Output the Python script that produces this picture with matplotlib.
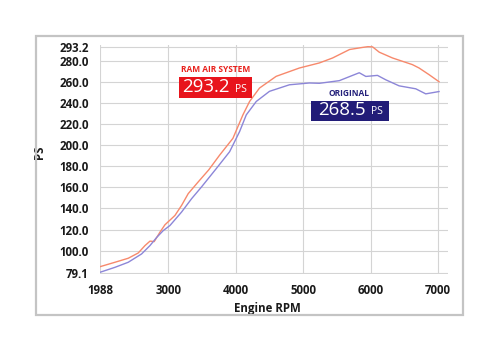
import matplotlib
matplotlib.use("Agg")
import matplotlib.pyplot as plt
from matplotlib.patches import Rectangle

plt.rcParams['font.family'] = ['Open Sans', 'DejaVu Sans']

# dyno data
ram_rpm = [1988, 2210, 2407, 2555, 2655, 2729, 2792, 2877, 2951, 3099, 3198, 3296,
           3444, 3600, 3762, 3959, 4107, 4206, 4353, 4600, 4945, 5241, 5437, 5688,
           5881, 5960, 6030, 6128, 6325, 6620, 6719, 6867, 7015]
ram_ps = [84.8, 89.0, 92.8, 97.8, 104.8, 109.0, 108.6, 117.5, 124.5, 133.3, 142.9, 154.0,
          165.1, 176.5, 190.5, 206.4, 228.6, 241.3, 254.0, 265.1, 273.0, 277.8, 282.5, 290.5,
          292.5, 293.2, 293.0, 288.0, 282.5, 276.2, 273.0, 266.7, 260.0]

orig_rpm = [1988, 2210, 2407, 2605, 2729, 2828, 2926, 3025, 3198, 3346, 3494, 3713,
            3910, 4058, 4157, 4305, 4501, 4797, 5092, 5241, 5536, 5733, 5832, 5930,
            6102, 6226, 6423, 6670, 6818, 7015]
orig_ps = [79.5, 84.2, 89.0, 96.9, 104.8, 112.5, 119.0, 123.8, 136.6, 149.2, 160.4, 177.8,
           193.7, 212.8, 228.6, 241.3, 250.9, 257.1, 258.8, 258.5, 261.0, 266.0, 268.5, 265.0,
           266.0, 261.8, 256.1, 253.3, 248.5, 250.7]

xticks = [1988, 3000, 4000, 5000, 6000, 7000]
yticks = [79.1, 100, 120, 140, 160, 180, 200, 220, 240, 260, 280, 293.2]

ram_label = "RAM AIR SYSTEM"
orig_label = "ORIGINAL"
ram_peak = "293.2"
orig_peak = "268.5"

W, H = 500, 352
fig = plt.figure(figsize=(W / 100, H / 100), dpi=100)
fig.patch.set_facecolor("white")

def fx(px):
    return px / W

def fy(py):
    return 1 - py / H

# outer grey frame
fig.patches.append(Rectangle((fx(36), fy(315)), fx(463.3) - fx(36), fy(35.7) - fy(315),
                             transform=fig.transFigure, fill=False,
                             edgecolor="#c4c4c4", linewidth=1.6))

ax = fig.add_axes([fx(100), fy(274.4), fx(448) - fx(100), fy(45.3) - fy(274.4)])
ax.plot(ram_rpm, ram_ps, color="#f7896c", linewidth=1.0)
ax.plot(orig_rpm, orig_ps, color="#8c86d8", linewidth=1.0)

ax.set_xlim(1988, 7148)
ax.set_ylim(77.5, 294.5)
ax.set_xticks(xticks)
ax.set_xticklabels([str(t) for t in xticks])
ax.set_yticks(yticks)
ax.set_yticklabels(["%.1f" % t for t in yticks])
ax.grid(True, color="#d4d4d4", linewidth=0.8)
ax.set_axisbelow(True)
for s in ax.spines.values():
    s.set_visible(False)
ax.tick_params(length=0, labelsize=8.3, colors="#1a1a1a", pad=7)
ax.tick_params(axis="y", pad=8)
for lab in ax.get_xticklabels() + ax.get_yticklabels():
    lab.set_fontweight("bold")

ax.set_xlabel("Engine RPM", fontsize=8.3, fontweight="bold", color="#1a1a1a")
ax.xaxis.set_label_coords(0.48, -0.12)
ax.set_ylabel("PS", fontsize=8.3, fontweight="bold", color="#1a1a1a")
ax.yaxis.set_label_coords(-0.155, 0.534)

# red callout
fig.text(fx(216), fy(70), ram_label, color="#e8231e", fontsize=6, fontweight="bold",
         ha="center", va="center")
fig.patches.append(Rectangle((fx(179), fy(98.3)), fx(252) - fx(179), fy(76.7) - fy(98.3),
                             transform=fig.transFigure, facecolor="#e8141c", edgecolor="none"))
fig.text(fx(206), fy(87.5), ram_peak, color="white", fontsize=13.5, ha="center", va="center")
fig.text(fx(241), fy(89), "PS", color="white", fontsize=7.5, ha="center", va="center")

# navy callout
fig.text(fx(349), fy(93.3), orig_label, color="#23207a", fontsize=6, fontweight="bold",
         ha="center", va="center")
fig.patches.append(Rectangle((fx(310.7), fy(120.7)), fx(389.3) - fx(310.7), fy(100.7) - fy(120.7),
                             transform=fig.transFigure, facecolor="#221c78", edgecolor="none"))
fig.text(fx(342), fy(110), orig_peak, color="white", fontsize=13.5, ha="center", va="center")
fig.text(fx(377), fy(111.5), "PS", color="white", fontsize=7.5, ha="center", va="center")

fig.savefig("out.png", dpi=100)
